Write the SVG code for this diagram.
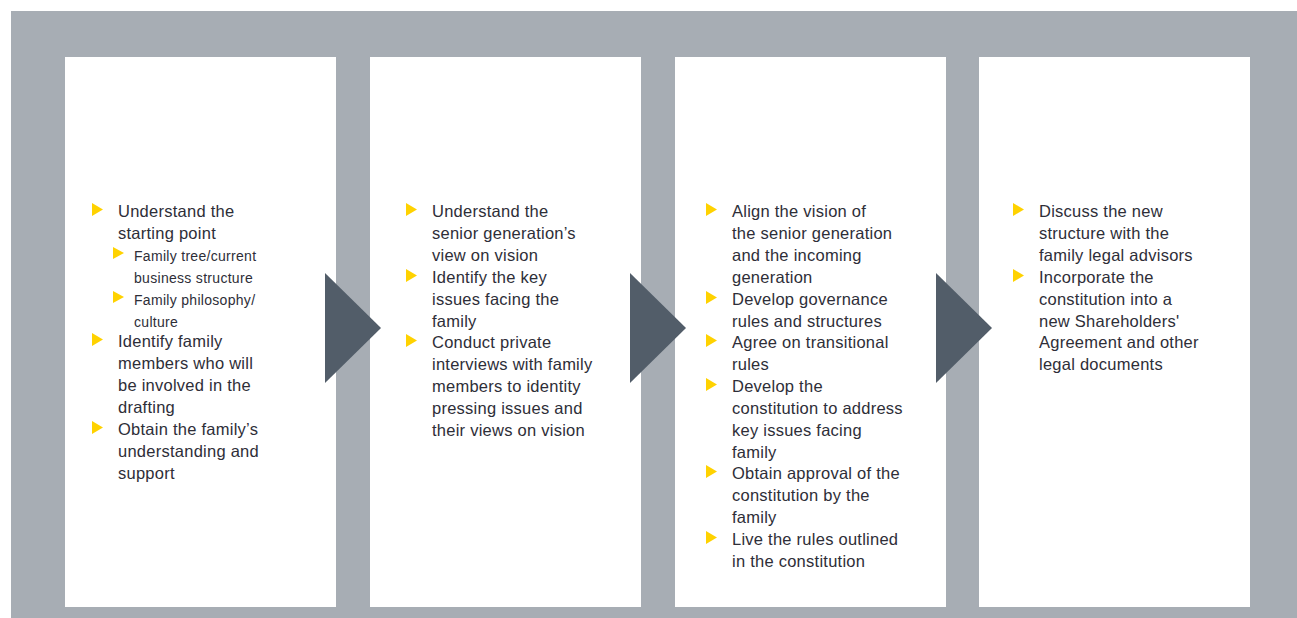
<svg xmlns="http://www.w3.org/2000/svg" width="1297" height="618" viewBox="0 0 1297 618">
<style>
.bg{fill:#a7adb4}
.panel{fill:#ffffff}
.arrow{fill:#525d69}
.b{fill:#ffd200}
text{font-family:"Liberation Sans",Arial,sans-serif;fill:#2e2e38}
.t{font-size:16.5px;letter-spacing:0.25px}
.s{font-size:14px;letter-spacing:0.3px}
</style>
<defs>
<path id="bul" d="M0,0 L11,6.5 L0,13 Z"/>
<path id="sbul" d="M0,0 L11,6 L0,12 Z"/>
</defs>
<rect class="bg" x="11" y="11" width="1286" height="607"/>
<g id="step1">
<rect class="panel" x="65" y="57" width="271" height="550"/>
<use href="#bul" class="b" x="92" y="203"/>
<use href="#sbul" class="b" x="113" y="247"/>
<use href="#sbul" class="b" x="113" y="291"/>
<use href="#bul" class="b" x="92" y="333"/>
<use href="#bul" class="b" x="92" y="421"/>
<text class="t" x="118" y="217">Understand the</text>
<text class="t" x="118" y="239">starting point</text>
<text class="s" x="134" y="261">Family tree/current</text>
<text class="s" x="134" y="283">business structure</text>
<text class="s" x="134" y="305">Family philosophy/</text>
<text class="s" x="134" y="327">culture</text>
<text class="t" x="118" y="347">Identify family</text>
<text class="t" x="118" y="369">members who will</text>
<text class="t" x="118" y="391">be involved in the</text>
<text class="t" x="118" y="413">drafting</text>
<text class="t" x="118" y="435">Obtain the family’s</text>
<text class="t" x="118" y="457">understanding and</text>
<text class="t" x="118" y="479">support</text>
</g>
<g id="step2">
<rect class="panel" x="370" y="57" width="271" height="550"/>
<use href="#bul" class="b" x="406" y="203"/>
<use href="#bul" class="b" x="406" y="269"/>
<use href="#bul" class="b" x="406" y="334"/>
<text class="t" x="432" y="217">Understand the</text>
<text class="t" x="432" y="239">senior generation’s</text>
<text class="t" x="432" y="261">view on vision</text>
<text class="t" x="432" y="283">Identify the key</text>
<text class="t" x="432" y="305">issues facing the</text>
<text class="t" x="432" y="327">family</text>
<text class="t" x="432" y="348">Conduct private</text>
<text class="t" x="432" y="370">interviews with family</text>
<text class="t" x="432" y="392">members to identity</text>
<text class="t" x="432" y="414">pressing issues and</text>
<text class="t" x="432" y="436">their views on vision</text>
</g>
<g id="step3">
<rect class="panel" x="675" y="57" width="271" height="550"/>
<use href="#bul" class="b" x="706" y="203"/>
<use href="#bul" class="b" x="706" y="291"/>
<use href="#bul" class="b" x="706" y="334"/>
<use href="#bul" class="b" x="706" y="378"/>
<use href="#bul" class="b" x="706" y="465"/>
<use href="#bul" class="b" x="706" y="531"/>
<text class="t" x="732" y="217">Align the vision of</text>
<text class="t" x="732" y="239">the senior generation</text>
<text class="t" x="732" y="261">and the incoming</text>
<text class="t" x="732" y="283">generation</text>
<text class="t" x="732" y="305">Develop governance</text>
<text class="t" x="732" y="327">rules and structures</text>
<text class="t" x="732" y="348">Agree on transitional</text>
<text class="t" x="732" y="370">rules</text>
<text class="t" x="732" y="392">Develop the</text>
<text class="t" x="732" y="414">constitution to address</text>
<text class="t" x="732" y="436">key issues facing</text>
<text class="t" x="732" y="458">family</text>
<text class="t" x="732" y="479">Obtain approval of the</text>
<text class="t" x="732" y="501">constitution by the</text>
<text class="t" x="732" y="523">family</text>
<text class="t" x="732" y="545">Live the rules outlined</text>
<text class="t" x="732" y="567">in the constitution</text>
</g>
<g id="step4">
<rect class="panel" x="979" y="57" width="271" height="550"/>
<use href="#bul" class="b" x="1013" y="203"/>
<use href="#bul" class="b" x="1013" y="269"/>
<text class="t" x="1039" y="217">Discuss the new</text>
<text class="t" x="1039" y="239">structure with the</text>
<text class="t" x="1039" y="261">family legal advisors</text>
<text class="t" x="1039" y="283">Incorporate the</text>
<text class="t" x="1039" y="305">constitution into a</text>
<text class="t" x="1039" y="327">new Shareholders'</text>
<text class="t" x="1039" y="348">Agreement and other</text>
<text class="t" x="1039" y="370">legal documents</text>
</g>
<g id="connectors">
<path class="arrow" d="M325,273 L381,328 L325,383 Z"/>
<path class="arrow" d="M630,273 L686,328 L630,383 Z"/>
<path class="arrow" d="M936,273 L992,328 L936,383 Z"/>
</g>
</svg>
